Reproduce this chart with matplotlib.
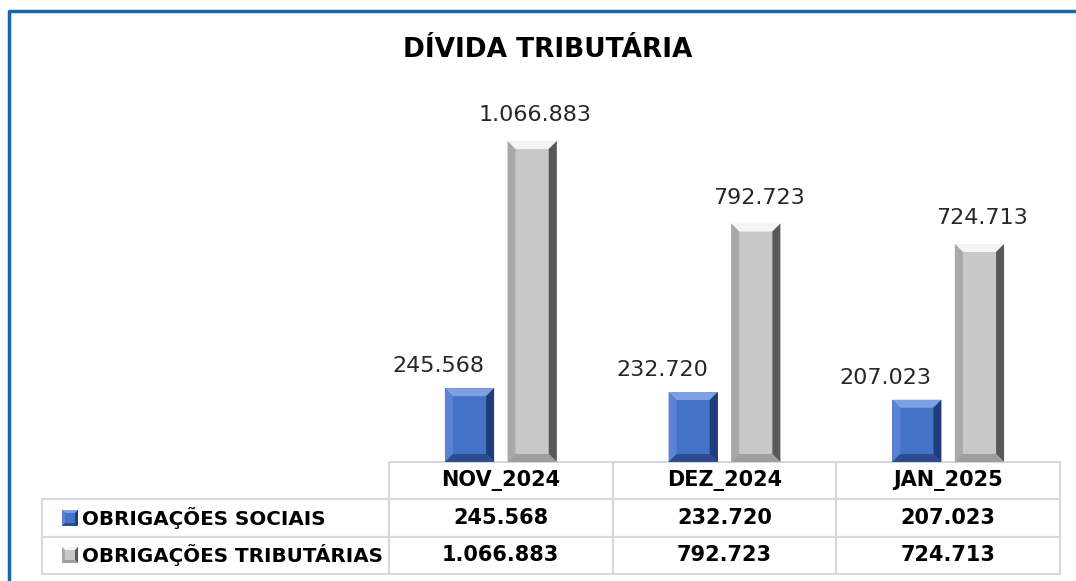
import matplotlib.pyplot as plt
import numpy as np
from matplotlib.patches import Polygon
from matplotlib.lines import Line2D
from matplotlib.table import Table

# Dados do gráfico
meses = ['NOV_2024', 'DEZ_2024', 'JAN_2025']
series = ['OBRIGAÇÕES SOCIAIS', 'OBRIGAÇÕES TRIBUTÁRIAS']
sociais = [245568, 232720, 207023]
tributarias = [1066883, 792723, 724713]

# Cores: face, topo, esquerda, direita, base
cores_azul = ['#4472C4', '#7EA0E2', '#5A83D3', '#203D7A', '#2D4D90']
cores_cinza = ['#C8C8C8', '#F4F4F4', '#A9A9A9', '#585858', '#9E9E9E']


def fmt(v):
    return f'{v:,}'.replace(',', '.')


fig = plt.figure(figsize=(10.76, 5.81), dpi=100)
para_fig = fig.transFigure.inverted()


def bisel(x0, y0, x1, y1, b, cores):
    # desenha as faces chanfradas (coordenadas em pixels da tela)
    faces = [
        ([(x0, y0), (x1, y0), (x1, y1), (x0, y1)], cores[0]),
        ([(x0, y1), (x1, y1), (x1 - b, y1 - b), (x0 + b, y1 - b)], cores[1]),
        ([(x0, y0), (x0, y1), (x0 + b, y1 - b), (x0 + b, y0 + b)], cores[2]),
        ([(x1, y0), (x1, y1), (x1 - b, y1 - b), (x1 - b, y0 + b)], cores[3]),
        ([(x0, y0), (x1, y0), (x1 - b, y0 + b), (x0 + b, y0 + b)], cores[4]),
    ]
    for pts, c in faces:
        fig.add_artist(Polygon(para_fig.transform(pts), closed=True, facecolor=c,
                               edgecolor='none', transform=fig.transFigure))


ax = fig.add_axes([0.3615, 0.2048, 0.6236, 0.6472])
x = np.arange(len(meses))
barras_s = ax.bar(x - 0.14, sociais, 0.22, color=cores_azul[0])
barras_t = ax.bar(x + 0.14, tributarias, 0.22, color=cores_cinza[0])
ax.set_xlim(-0.5, 2.5)
ax.set_ylim(0, 1250000)
ax.axis('off')

for barras, cores in [(barras_s, cores_azul), (barras_t, cores_cinza)]:
    for r in barras:
        (x0, y0), (x1, y1) = ax.transData.transform(
            [(r.get_x(), 0), (r.get_x() + r.get_width(), r.get_height())])
        bisel(x0, y0, x1, y1, 8, cores)

# Rótulos de dados
for r, v in zip(barras_s, sociais):
    ax.annotate(fmt(v), (r.get_x() + r.get_width() / 2, r.get_height()),
                xytext=(-31, 22), textcoords='offset pixels',
                ha='center', va='center', fontsize=16, color='#262626')
for r, v in zip(barras_t, tributarias):
    ax.annotate(fmt(v), (r.get_x() + r.get_width() / 2, r.get_height()),
                xytext=(3, 26), textcoords='offset pixels',
                ha='center', va='center', fontsize=16, color='#262626')

# Tabela de dados
tab = Table(ax, bbox=[0, -0.2979, 1, 0.2979])
h = 1 / 3
for j, m in enumerate(meses):
    tab.add_cell(0, j, 1 / 3, h, text=m, loc='center')
for i, vals in enumerate([sociais, tributarias]):
    c = tab.add_cell(i + 1, -1, 0.5171, h, text=series[i], loc='left')
    c.PAD = 0.115
    for j, v in enumerate(vals):
        tab.add_cell(i + 1, j, 1 / 3, h, text=fmt(v), loc='center')
tab.auto_set_font_size(False)
for (lin, col), cell in tab.get_celld().items():
    cell.set_edgecolor('#D9D9D9')
    cell.set_linewidth(1.5)
    cell.get_text().set_fontweight('bold')
    cell.get_text().set_fontsize(14.3 if col < 0 else 15)
ax.add_table(tab)

# Quadradinhos da legenda
bisel(62, 581 - 526, 78, 581 - 510, 3, cores_azul)
bisel(62, 581 - 563, 78, 581 - 547, 3, cores_cinza)

fig.text(0.509, 0.914, 'DÍVIDA TRIBUTÁRIA', ha='center', va='center',
         fontsize=19, fontweight='bold')

# Borda azul
xl = 9 / 1076
yt = 1 - 11 / 581
fig.add_artist(Line2D([xl, xl, 1], [0, yt, yt], transform=fig.transFigure,
                      color='#1767A6', linewidth=2.5))

fig.savefig('out.png', dpi=100)
